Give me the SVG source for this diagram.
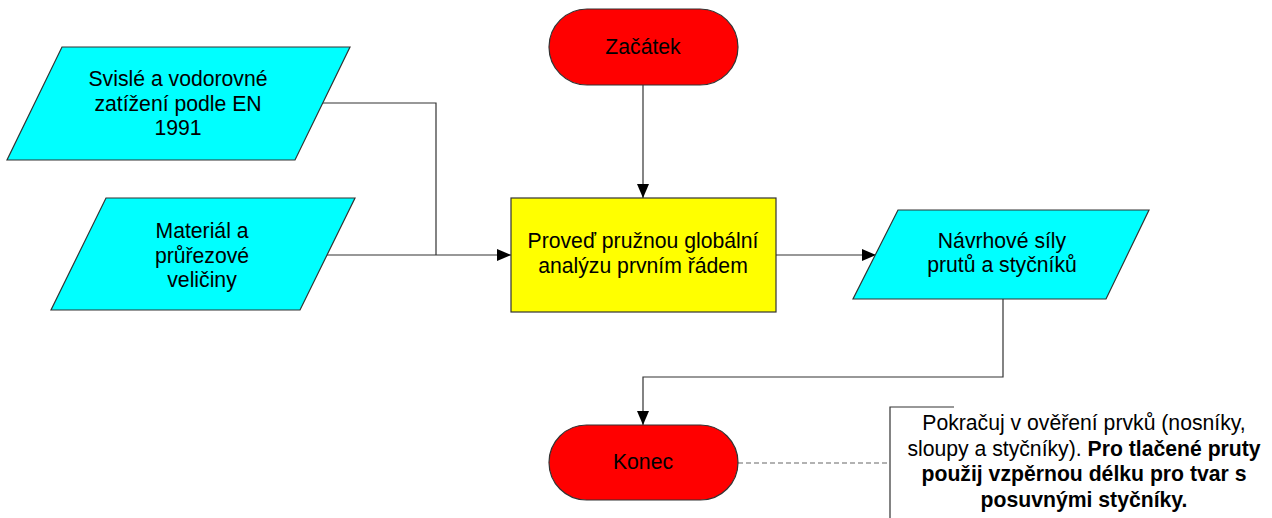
<svg xmlns="http://www.w3.org/2000/svg" width="1272" height="518" viewBox="0 0 1272 518">
<style>
.shape{stroke:#333;stroke-width:1.2}
.io{fill:#00FFFF}
.term{fill:#FF0000}
.proc{fill:#FFFF00}
.t{font-family:"Liberation Sans",Arial,sans-serif;font-size:21.2px;fill:#000;text-anchor:middle}
.n{font-family:"Liberation Sans",Arial,sans-serif;font-size:21.2px;fill:#000;text-anchor:middle}
.b{font-weight:bold}
.c{fill:none;stroke:#333;stroke-width:1.2}
.d{fill:none;stroke:#666;stroke-width:1.2;stroke-dasharray:5,3}
</style>
<defs>
<marker id="arr" viewBox="0 0 14 12" refX="14" refY="6" markerWidth="14" markerHeight="12" markerUnits="userSpaceOnUse" orient="auto">
<path d="M0,0 L14,6 L0,12 Z" fill="#000"/>
</marker>
</defs>
<g id="connectors">
<path class="c" d="M323,103 H436 V255"/>
<path class="c" d="M327,255 H511" marker-end="url(#arr)"/>
<path class="c" d="M643,85 V198" marker-end="url(#arr)"/>
<path class="c" d="M776,255 H876" marker-end="url(#arr)"/>
<path class="c" d="M1003,299 V377 H643 V425" marker-end="url(#arr)"/>
<path class="d" d="M738,463 H890"/>
</g>
<g id="zatizeni">
<polygon class="shape io" points="62,47 350,47 295,160 7,160"/>
<text class="t" x="178" y="86">Svislé a vodorovné</text>
<text class="t" x="178" y="111">zatížení podle EN</text>
<text class="t" x="178" y="135">1991</text>
</g>
<g id="material">
<polygon class="shape io" points="106,198 355,198 300,310 51,310"/>
<text class="t" x="202" y="238">Materiál a</text>
<text class="t" x="202" y="263">průřezové</text>
<text class="t" x="202" y="287">veličiny</text>
</g>
<g id="zacatek">
<rect class="shape term" x="549" y="9" width="189" height="76" rx="38" ry="38"/>
<text class="t" x="643" y="54">Začátek</text>
</g>
<g id="analyza">
<rect class="shape proc" x="511" y="198" width="265" height="114"/>
<text class="t" x="643" y="248">Proveď pružnou globální</text>
<text class="t" x="643" y="273">analýzu prvním řádem</text>
</g>
<g id="sily">
<polygon class="shape io" points="898,210 1149,210 1106,299 853,299"/>
<text class="t" x="1002" y="248">Návrhové síly</text>
<text class="t" x="1002" y="272">prutů a styčníků</text>
</g>
<g id="konec">
<rect class="shape term" x="549" y="425" width="189" height="75" rx="37.5" ry="37.5"/>
<text class="t" x="643" y="469">Konec</text>
</g>
<g id="poznamka">
<path class="c" d="M954,407 H890 V518"/>
<text class="n" x="1084" y="430">Pokračuj v ověření prvků (nosníky,</text>
<text class="n" x="1084" y="456">sloupy a styčníky). <tspan class="b">Pro tlačené pruty</tspan></text>
<text class="n b" x="1084" y="481">použij vzpěrnou délku pro tvar s</text>
<text class="n b" x="1084" y="507">posuvnými styčníky.</text>
</g>
</svg>
